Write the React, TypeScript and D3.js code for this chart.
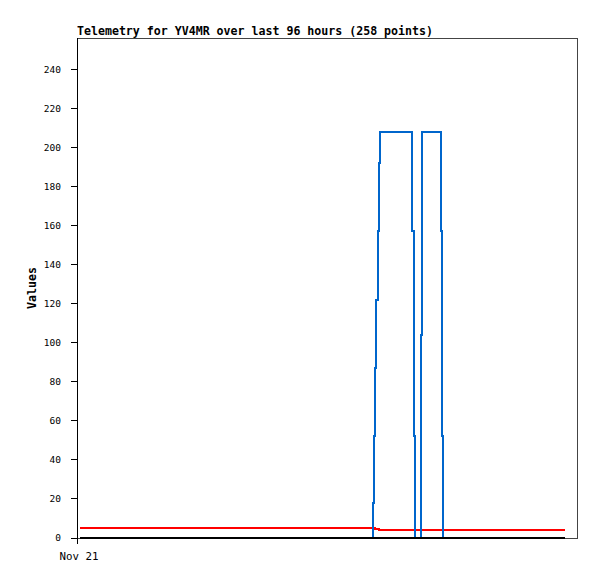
import React from "react";
import * as d3 from "d3";

const titleText = "Telemetry for YV4MR over last 96 hours (258 points)";
const yLabel = "Values";
const yTicks = [0, 20, 40, 60, 80, 100, 120, 140, 160, 180, 200, 220, 240];

// hours after Nov 21 00:00
const blueHours = [0.6, 58.7, 58.9, 59.1, 59.3, 59.5, 59.7, 59.9, 66.4, 66.8, 67.0, 68.2, 68.4, 72.1, 72.3, 72.5, 96.6];
const blueValues = [0, 18, 52, 87, 122, 157, 192, 208, 157, 52, 0, 104, 208, 157, 52, 0, 0];
const redHours = [0.6, 59.0, 59.7, 96.6];
const redValues = [5, 4.5, 4, 4];
const blackHours = [0.6, 96.6];
const blackValues = [0, 0];

const startDate = new Date(2024, 10, 21, 0, 0, 0);
const domainHours = 99;
const yMax = 256;

const W = 597, H = 579;
const L = 77, R = 577, T = 38, B = 538;

export default function App() {
  const x = d3.scaleTime()
    .domain([startDate, new Date(startDate.getTime() + domainHours * 3600e3)])
    .range([L, R]);
  const y = d3.scaleLinear().domain([0, yMax]).range([B, T]);
  const toDate = (h: number) => new Date(startDate.getTime() + h * 3600e3);
  const line = d3.line<[number, number]>()
    .x((d) => x(toDate(d[0])))
    .y((d) => y(d[1]))
    .curve(d3.curveStepAfter);
  const mk = (hs: number[], vs: number[]) => line(hs.map((h, i) => [h, vs[i]] as [number, number])) || "";
  const fmt = d3.timeFormat("%b %d");
  const xTicks = [startDate];
  const mono = "'DejaVu Sans Mono', monospace";

  return (
    <div style={{ position: "absolute", left: 0, top: 0 }}>
      <svg width={W} height={H} style={{ display: "block", background: "#fff" }}>
        <text x={L} y={35} fontFamily={mono} fontWeight="bold" fontSize={11.6} fill="#000">{titleText}</text>
        <rect x={L} y={T} width={R - L} height={B - T} fill="none" stroke="#444" strokeWidth={1} shapeRendering="crispEdges" />
        <line x1={L} x2={L} y1={T} y2={B} stroke="#000" strokeWidth={1} shapeRendering="crispEdges" />
        {yTicks.map((t) => (
          <g key={t}>
            <line x1={L - 6} x2={L} y1={y(t)} y2={y(t)} stroke="#000" shapeRendering="crispEdges" />
            <text x={61} y={y(t)} dy="0.35em" textAnchor="end" fontFamily={mono} fontSize={9.5} fill="#000">{t}</text>
          </g>
        ))}
        {xTicks.map((d, i) => (
          <g key={i}>
            <line x1={x(d)} x2={x(d)} y1={B} y2={B + 6} stroke="#000" shapeRendering="crispEdges" />
            <text x={x(d) + 2} y={560} textAnchor="middle" fontFamily={mono} fontSize={10.8} fill="#000">{fmt(d)}</text>
          </g>
        ))}
        <text transform={`translate(36,${(T + B) / 2}) rotate(-90)`} textAnchor="middle" fontFamily={mono} fontWeight="bold" fontSize={11.6} fill="#000">{yLabel}</text>
        <path d={mk(redHours, redValues)} fill="none" stroke="#ff0000" strokeWidth={2} shapeRendering="crispEdges" />
        <path d={mk(blueHours, blueValues)} fill="none" stroke="#0066cc" strokeWidth={2} shapeRendering="crispEdges" />
        <path d={mk(blackHours, blackValues)} fill="none" stroke="#000" strokeWidth={2} shapeRendering="crispEdges" />
      </svg>
    </div>
  );
}
